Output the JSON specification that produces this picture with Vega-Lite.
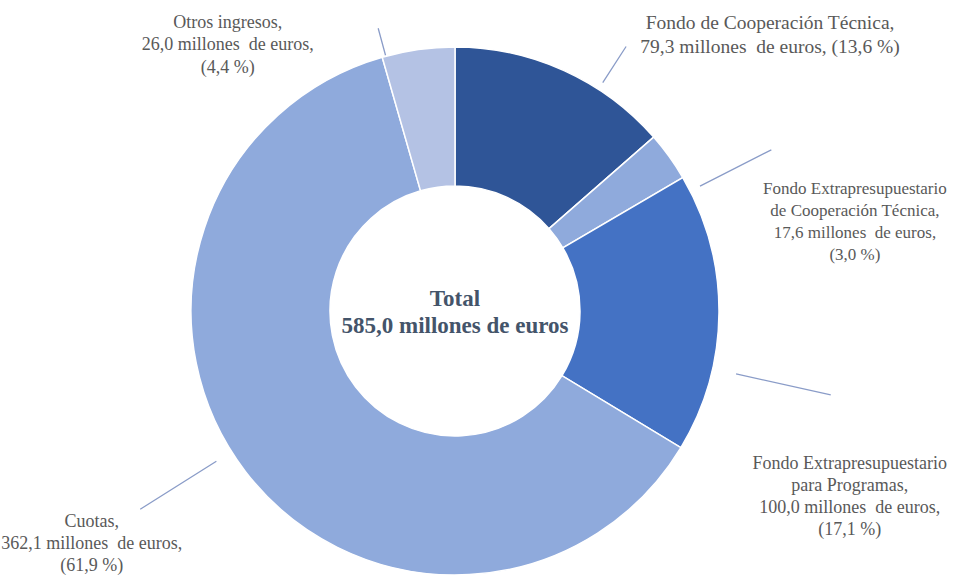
{
  "$schema": "https://vega.github.io/schema/vega-lite/v6.json",
  "width": 910,
  "height": 532,
  "autosize": {"type": "none"},
  "padding": {"left": 0, "top": 45, "right": 63, "bottom": 0},
  "background": "white",
  "config": {"view": {"stroke": null}},
  "datasets": {
    "ingresos": [
      {"clave": "fct", "categoria": "Fondo de Cooperación Técnica", "valor": 79.3, "porcentaje": 13.6, "orden": 1, "etiqueta": "Fondo de Cooperación Técnica,\n79,3 millones\u00a0 de euros, (13,6 %)"},
      {"clave": "fect", "categoria": "Fondo Extrapresupuestario de Cooperación Técnica", "valor": 17.6, "porcentaje": 3.0, "orden": 2, "etiqueta": "Fondo Extrapresupuestario\nde Cooperación Técnica,\n17,6 millones\u00a0 de euros,\n(3,0 %)"},
      {"clave": "fep", "categoria": "Fondo Extrapresupuestario para Programas", "valor": 100.0, "porcentaje": 17.1, "orden": 3, "etiqueta": "Fondo Extrapresupuestario\npara Programas,\n100,0 millones\u00a0 de euros,\n(17,1 %)"},
      {"clave": "cuotas", "categoria": "Cuotas", "valor": 362.1, "porcentaje": 61.9, "orden": 4, "etiqueta": "Cuotas,\n362,1 millones\u00a0 de euros,\n(61,9 %)"},
      {"clave": "otros", "categoria": "Otros ingresos", "valor": 26.0, "porcentaje": 4.4, "orden": 5, "etiqueta": "Otros ingresos,\n26,0 millones\u00a0 de euros,\n(4,4 %)"}
    ],
    "total": [
      {"titulo": "Total\n585,0 millones de euros"}
    ]
  },
  "layer": [
    {
      "data": {"name": "ingresos"},
      "encoding": {
        "theta": {"field": "valor", "type": "quantitative", "stack": true},
        "order": {"field": "orden", "type": "quantitative"},
        "detail": {"field": "clave", "type": "nominal"}
      },
      "layer": [
        {
          "mark": {"type": "arc", "innerRadius": 125, "outerRadius": 264, "stroke": "white", "strokeWidth": 1.5},
          "encoding": {
            "color": {
              "field": "clave", "type": "nominal", "legend": null,
              "scale": {"domain": ["fct", "fect", "fep", "cuotas", "otros"], "range": ["#2F5597", "#8FAADC", "#4472C4", "#8FAADC", "#B4C2E4"]}
            }
          }
        },
        {
          "mark": {"type": "text", "radius": 418, "thetaOffset": 0.420624, "dx": 2, "dy": -11, "font": "Liberation Serif", "fontSize": 19.5, "color": "#595959", "align": "center", "baseline": "middle", "lineBreak": "\n", "lineHeight": 23.5},
          "encoding": {"text": {"condition": {"test": "datum.clave === 'fct'", "field": "etiqueta", "type": "nominal"}, "value": ""}}
        },
        {
          "mark": {"type": "text", "radius": 415, "thetaOffset": 0.403601, "dx": -5, "dy": -31, "font": "Liberation Serif", "fontSize": 17, "color": "#595959", "align": "center", "baseline": "middle", "lineBreak": "\n", "lineHeight": 22},
          "encoding": {"text": {"condition": {"test": "datum.clave === 'fect'", "field": "etiqueta", "type": "nominal"}, "value": ""}}
        },
        {
          "mark": {"type": "text", "radius": 435, "thetaOffset": 0.426923, "dy": -30, "font": "Liberation Serif", "fontSize": 18, "color": "#595959", "align": "center", "baseline": "middle", "lineBreak": "\n", "lineHeight": 22},
          "encoding": {"text": {"condition": {"test": "datum.clave === 'fep'", "field": "etiqueta", "type": "nominal"}, "value": ""}}
        },
        {
          "mark": {"type": "text", "radius": 431, "thetaOffset": 0.084443, "dy": -21, "font": "Liberation Serif", "fontSize": 18, "color": "#595959", "align": "center", "baseline": "middle", "lineBreak": "\n", "lineHeight": 22},
          "encoding": {"text": {"condition": {"test": "datum.clave === 'cuotas'", "field": "etiqueta", "type": "nominal"}, "value": ""}}
        },
        {
          "mark": {"type": "text", "radius": 350, "thetaOffset": -0.566696, "dy": -22, "font": "Liberation Serif", "fontSize": 18, "color": "#595959", "align": "center", "baseline": "middle", "lineBreak": "\n", "lineHeight": 22.5},
          "encoding": {"text": {"condition": {"test": "datum.clave === 'otros'", "field": "etiqueta", "type": "nominal"}, "value": ""}}
        }
      ]
    },
    {
      "data": {"name": "ingresos"},
      "transform": [{"filter": "datum.clave === 'fct'"}],
      "mark": {"type": "arc", "theta": 0.57421, "theta2": 0.57421, "innerRadius": 272, "outerRadius": 315, "fillOpacity": 0, "stroke": "#8A9CC8", "strokeWidth": 1.3},
      "encoding": {}
    },
    {
      "data": {"name": "ingresos"},
      "transform": [{"filter": "datum.clave === 'fect'"}],
      "mark": {"type": "arc", "theta": 1.09956, "theta2": 1.09956, "innerRadius": 275, "outerRadius": 355, "fillOpacity": 0, "stroke": "#8A9CC8", "strokeWidth": 1.3},
      "encoding": {}
    },
    {
      "data": {"name": "ingresos"},
      "transform": [{"filter": "datum.clave === 'fep'"}],
      "mark": {"type": "arc", "theta": 1.79071, "theta2": 1.79071, "innerRadius": 288, "outerRadius": 385, "fillOpacity": 0, "stroke": "#8A9CC8", "strokeWidth": 1.3},
      "encoding": {}
    },
    {
      "data": {"name": "ingresos"},
      "transform": [{"filter": "datum.clave === 'cuotas'"}],
      "mark": {"type": "arc", "theta": 4.15039, "theta2": 4.15039, "innerRadius": 282, "outerRadius": 372, "fillOpacity": 0, "stroke": "#8A9CC8", "strokeWidth": 1.3},
      "encoding": {}
    },
    {
      "data": {"name": "ingresos"},
      "transform": [{"filter": "datum.clave === 'otros'"}],
      "mark": {"type": "arc", "theta": 6.0179, "theta2": 6.0179, "innerRadius": 265, "outerRadius": 293, "fillOpacity": 0, "stroke": "#8A9CC8", "strokeWidth": 1.3},
      "encoding": {}
    },
    {
      "data": {"name": "total"},
      "mark": {"type": "text", "dy": -12, "font": "Liberation Serif", "fontWeight": "bold", "fontSize": 23, "color": "#44546A", "align": "center", "baseline": "middle", "lineBreak": "\n", "lineHeight": 27},
      "encoding": {"text": {"field": "titulo", "type": "nominal"}}
    }
  ]
}
